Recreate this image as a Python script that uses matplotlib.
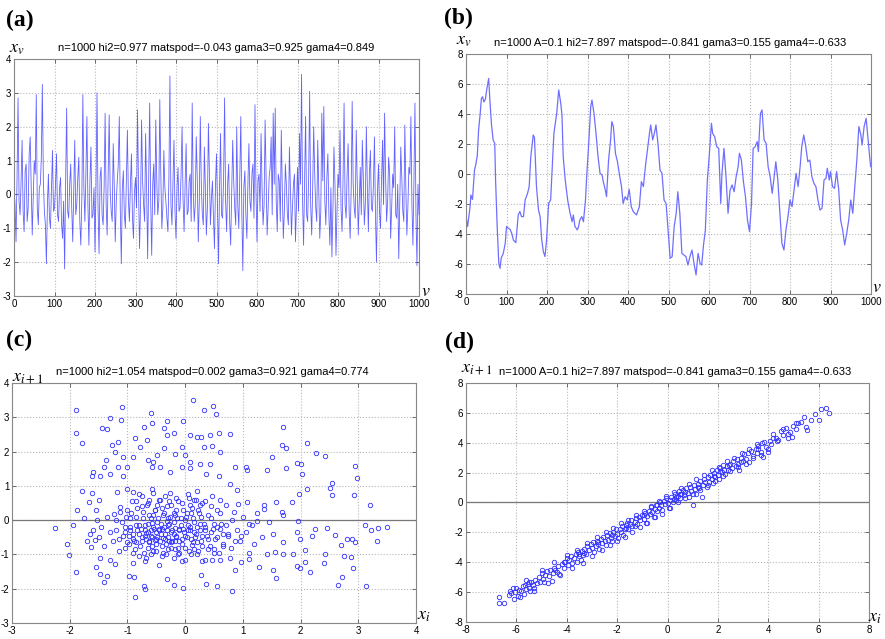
import numpy as np
import matplotlib
matplotlib.use('Agg')
import matplotlib.pyplot as plt

plt.rcParams['mathtext.fontset'] = 'stix'
plt.rcParams['axes.unicode_minus'] = False

# panel (a): noise series over v = 0..1000
a_vals = [0.2, -0.3, -1.4, 0.5, 2.85, -0.2, -0.6, 0.4, 1.6, -0.5, -1.1, 0.7, 0.9, -0.8, -0.4, 1.2, 1.7, 0.3, -1.2, -0.1,
          1.0, 0.6, 2.95, -0.4, -0.9, 0.2, 0.3, 1.1, 3.25, 0.4, -0.5, -0.9, -2.05, -0.3, 0.6, -0.7, -1.0, 0.1, 1.3, -0.5,
          -0.4, 0.3, 1.2, -0.6, -0.8, 0.2, 0.5, -0.9, -1.3, -0.2, -2.2, 0.4, 2.55, -0.5, -0.7, 0.3, 0.9, -0.4, -1.4, 0.1,
          1.6, -0.6, -0.3, 0.5, 1.1, -0.8, -1.5, -0.1, 2.95, 0.2, -0.8, 0.6, 2.3, -0.3, -1.5, 0.4, 1.4, -0.7, -0.6, 0.2,
          -1.7, 0.3, 3.0, -0.4, -1.75, 0.5, 0.8, -0.6, -0.9, 0.2, 2.4, -0.3, -1.2, 0.6, 2.35, 0.1, -0.5, -0.8, 1.5, 0.3,
          -1.4, -0.2, 0.4, 0.9, 2.3, -0.5, -2.05, 0.2, 0.7, -0.6, -1.0, 0.5, 1.9, -0.2, -0.8, 0.3, 1.2, -0.7, -1.3, 0.1,
          0.5, -0.4, 2.5, 0.2, -1.6, -0.3, 2.2, 0.4, -0.3, -0.8, 1.8, 0.1, -1.9, 0.5, 2.7, -0.2, -1.8, 0.3, 0.9, -0.6,
          2.2, 0.4, -0.6, -0.2, 2.8, 0.6, -1.0, -0.4, 1.3, 0.2, -0.2, -0.7, -1.1, 0.5, 3.5, -0.3, -0.9, 0.4, 1.6, -0.5,
          -1.3, 0.2, 0.8, -0.5, -0.4, 0.6, 2.0, -0.2, -1.1, 0.3, 1.5, -0.6, -0.5, 0.4, 0.6, -0.8, 2.7, 0.1, -0.8, -0.3,
          1.7, 0.5, -1.4, -0.2, 2.3, 0.3, -0.6, -0.9, 1.4, 0.2, -1.2, -0.4, 2.1, 0.6, -0.9, -0.1, 0.4, -0.7, -1.6, 0.3,
          1.2, -0.4, -2.05, 0.2, 1.8, -0.6, -0.7, 0.5, 2.85, -0.2, -1.1, 0.3, 0.9, -0.8, -1.5, 0.1, 1.6, 0.4, -0.4, -0.9,
          2.0, -0.3, -1.0, 0.5, 2.3, -0.5, -2.25, 0.2, 0.7, -0.6, -1.3, 0.3, 1.5, -0.2, -0.5, 0.6, 0.9, -0.7, 2.65, 0.1,
          -1.4, 0.4, 0.6, -0.5, 1.8, 0.2, -0.9, -0.3, 2.2, 0.5, -1.2, -0.4, 0.5, 0.8, 1.7, -0.6, 2.4, 0.3, 2.55, -0.2,
          -1.1, 0.6, 0.4, -0.8, 1.9, 0.1, -1.3, -0.5, 0.9, 0.3, -0.6, -0.9, 1.4, 0.2, -1.2, -0.4, 0.3, 0.6, -1.4, -0.3,
          0.8, -0.5, 1.8, 0.3, 3.55, -0.2, -1.5, 0.4, 2.3, -0.6, -0.8, 0.5, 3.05, -0.3, -1.2, 0.2, 2.0, 0.6, -0.4, -0.8,
          1.6, 0.1, -1.3, -0.5, 2.4, 0.4, 2.6, -0.2, -0.9, 0.5, 1.2, -0.6, -1.5, 0.2, -1.85, -0.4, 1.4, 0.3, -1.8, -0.5,
          0.6, 0.2, 1.9, -0.4, -1.1, 0.5, 2.7, -0.3, -0.7, 0.6, 1.5, -0.5, -1.3, 0.1, 2.75, 0.3, -0.4, -0.7, 1.9, 0.4,
          -1.2, -0.2, 0.8, -0.6, 1.6, 0.5, -0.9, -0.3, 2.0, 0.2, -1.1, 0.6, 1.3, -0.4, -0.5, 0.3, 1.7, -0.6, -2.0, 0.1,
          0.9, -0.5, -1.0, 0.4, 1.6, -0.3, 2.4, 0.5, -0.8, -0.2, 1.1, 0.6, -1.3, -0.4, 0.6, 0.2, 2.0, -0.6, -0.7, 0.3,
          -1.9, -0.2, 1.4, 0.5, -0.5, -0.8, 2.05, 0.2, -1.2, -0.4, 0.8, 0.6, 2.3, -0.3, -1.5, 0.4, 2.7, -0.6, -2.1, 0.3, -0.6]

# panel (b): smooth series, read at irregular v
b_v = [0, 4, 10, 12, 16, 21, 24, 28, 31, 35, 38, 41, 44, 48, 51, 56, 59, 63, 67, 71, 73, 77, 81, 84, 87, 92, 97,
       100, 104, 109, 113, 117, 123, 129, 133, 137, 142, 146, 152, 156, 160, 166, 169, 174, 179, 183, 187, 191, 195, 199,
       204, 209, 213, 217, 221, 224, 229, 234, 237, 240, 245, 251, 257, 262, 265, 269, 275, 278, 281, 286, 290, 295, 298,
       303, 308, 311, 316, 321, 326, 331, 336, 339, 344, 347, 352, 357, 360, 364, 369, 374, 379, 384, 388, 393, 398,
       403, 408, 413, 421, 428, 433, 438, 443, 448, 453, 456, 461, 466, 469, 474, 479, 484, 489, 494, 499,
       504, 509, 514, 519, 523, 528, 533, 538, 543, 548, 553, 558, 563, 568, 573, 578, 582, 586, 591, 596,
       601, 606, 609, 614, 619, 624, 629, 632, 637, 642, 647, 652, 657, 662, 667, 672, 675, 680, 685, 690, 695,
       700, 705, 709, 714, 719, 722, 727, 731, 736, 741, 746, 751, 756, 760, 765, 770, 775, 780, 785, 790, 795,
       800, 805, 810, 815, 820, 825, 829, 834, 839, 844, 849, 854, 859, 864, 869, 874, 879, 884, 889, 892, 897,
       900, 905, 910, 915, 920, 925, 930, 935, 940, 945, 950, 955, 960, 965, 970, 975, 978, 983, 988, 993, 999]
b_vals = [-2.84, -3.5, -2.2, -1.4, -1.7, 0.27, 0.6, 1.27, 2.9, 4.0, 5.04, 5.15, 4.8, 5.0, 5.6, 6.37, 4.9, 3.27, 2.27, 2.04, -0.4, -3.5, -5.96, -6.29, -5.6, -5.3, -4.6,
          -3.5, -3.6, -3.7, -3.96, -4.4, -4.58, -2.73, -2.5, -2.84, -2.84, -1.73, -1.29, -0.84, 1.16, 2.6, 2.44, -0.84, -2.4, -2.84, -4.4, -5.18, -5.5, -4.4,
          -1.96, -1.73, 0.49, 2.7, 3.49, 4.04, 5.6, 4.7, 3.93, 1.16, -0.4, -1.73, -2.62, -3.18, -2.73, -3.5, -3.73, -3.5, -3.07, -2.84, -3.18, -1.73, -0.18,
          2.04, 4.49, 4.93, 4.04, 2.71, 1.16, 0.04, -0.07, -0.51, -1.07, -1.51, 0.93, 2.27, 3.49, 3.16, 1.38, 0.82, -0.07, -0.84, -1.96, -1.51, -1.73,
          -1.02, -2.18, -2.51, -2.73, -2.18, -0.51, -0.84, 0.49, 1.6, 2.71, 3.27, 2.27, 2.82, 3.27, 2.04, 0.27, 0.04, -1.73, -1.96, -3.73,
          -5.62, -5.51, -3.5, -2.62, -1.18, -2.62, -5.29, -5.4, -5.5, -6.07, -5.5, -5.07, -5.96, -6.73, -5.29, -5.96, -6.07, -4.84, -3.73, -0.4,
          1.38, 3.38, 2.71, 2.49, 1.82, 1.71, -1.96, 0.04, 1.71, -0.18, -2.62, -1.07, -0.73, -1.18, -0.18, 0.49, 1.38, 0.93, -0.51, -1.51, -3.07,
          -3.84, -1.96, 1.71, 1.82, 2.16, 1.49, 4.04, 4.27, 2.27, 2.04, 0.49, -0.18, -1.29, -0.4, 0.82, -0.4, -2.62, -4.62, -5.07, -3.73, -2.84,
          -1.73, -2.18, -1.07, 0.04, -0.84, 0.49, 1.82, 2.6, 1.82, 0.82, 0.93, -0.18, -0.62, -0.84, -1.73, -2.4, -2.29, -0.4, -0.29, 0.38, -0.4,
          0.16, -0.84, -0.96, 0.16, -0.96, -3.07, -3.73, -4.73, -3.96, -3.07, -1.73, -2.62, -0.84, 0.93, 3.16, 2.6, 1.93, 3.16, 3.71, 2.27, 0.49]

# panel (c): lag plot of the noise series (x_i, x_i+1)
c_x = [-2.25, -1.89, -1.89, -1.79, -2.05, -2.01, -1.89, -1.88, -1.95, -1.79, -1.09, -1.3, -1.11, -1.44, -1.35,
       0.14, 0.32, 0.49, 0.54, -0.04, -0.31, -0.6, -0.57, 0.78, 1.7, 1.67, 1.75, 2.12, 2.26, 2.42, 1.5, 1.42, 1.75,
       1.93, 2.0, 2.03, 2.94, 2.98, 2.93, 2.54, 2.51, 2.54, 1.98, 2.12, 3.21, 3.11, 3.22, 3.34, 3.5, 3.32, 3.14,
       2.95, 2.9, 2.87, 2.75, 2.72, 2.65, 2.81, 2.89, 2.7, 2.6, 2.46, 2.42, 2.4, 2.25, 2.19, 2.07, 2.07, 2.17,
       1.93, 1.99, 1.87, 1.99, 1.96, 1.93, 1.7, 1.7, 1.67, 1.7, 1.85, 1.57, 1.46, 1.52, 1.55, 1.53, 1.57, 1.42,
       1.28, 1.33, 1.36, 1.36, 1.24, 1.11, 1.08, 1.05, 1.08, 1.11, 0.97, 1.11, 0.97, 0.82, 0.86, 0.86, 0.77, 0.89,
       0.92, 0.55, 0.37, 0.28, 0.46, -0.04, -0.19, -0.31, -0.72, -0.69, -0.87, -0.89, -0.98, -1.35, -1.41, -1.47,
       -1.55, -1.47, -1.3, -1.22, -1.63, -1.56, -1.65, -1.53, -1.5, -1.62, -1.66, -1.47, -1.41, -1.59, -1.62, -1.3,
       -1.16, -1.07, -1.01, -0.9, -0.87, -0.78, -0.71, -0.66, -0.64, -0.49, -0.37, -0.32, -0.2, -0.06, 0.0, 0.09,
       0.2, 0.28, 0.43, 0.58, 0.6, 0.46, 0.32, 0.09, 0.26, 0.43, 0.58, 0.37, -0.17, -0.37, -0.43, -0.26, -0.06,
       0.09, -0.58, -0.55, -1.07, -1.16, -1.27, -1.22, -1.37, -1.01, -0.9, -1.13, -1.24, -1.18,
       -1.2, -1.15, -1.1, -1.05, -1.0, -0.98, -0.95, -0.92, -0.9, -0.88, -0.85, -0.83, -0.8, -0.78, -0.75, -0.73,
       -0.7, -0.68, -0.66, -0.64, -0.62, -0.6, -0.58, -0.56, -0.54, -0.52, -0.5, -0.48, -0.46, -0.44, -0.42, -0.4,
       -0.38, -0.36, -0.34, -0.32, -0.3, -0.28, -0.26, -0.24, -0.22, -0.2, -0.18, -0.16, -0.14, -0.12, -0.1, -0.08,
       -0.06, -0.04, -0.02, 0.0, 0.02, 0.04, 0.06, 0.08, 0.1, 0.12, 0.14, 0.16, 0.18, 0.2, 0.22, 0.24, 0.26, 0.28,
       0.3, 0.32, 0.35, 0.38, 0.4, 0.43, 0.46, 0.49, 0.52, 0.55, 0.58, 0.62, 0.66, 0.7, 0.74, 0.78, 0.82, 0.86,
       -1.05, -0.95, -0.9, -0.85, -0.8, -0.75, -0.7, -0.65, -0.6, -0.55, -0.5, -0.45, -0.4, -0.35, -0.3, -0.25,
       -0.2, -0.15, -0.1, -0.05, 0.0, 0.05, 0.1, 0.15, 0.2, 0.25, 0.3, 0.35, 0.4, 0.45, 0.5, 0.55, 0.6, 0.65,
       -0.62, -0.38, -0.12, 0.18, -0.72, -0.48, -0.28, 0.08, -0.58, -0.32, -0.18, 0.28,
       -0.45, -0.5, -0.4, -0.55, -0.35, -0.6, -0.3, -0.65, -0.25, -0.7, -0.2, -0.75, -0.15, -0.8, -0.1, -0.85,
       -0.05, -0.9, 0.0, -0.95, 0.05, -1.0, 0.1, -1.05, 0.15, 0.2, 0.25, 0.3, 0.35, 0.4, 0.45, 0.5, 0.55, 0.6,
       0.65, 0.7, -0.47, -0.43, -0.37, -0.33, -0.27, -0.23, -0.17, -0.13, -0.07, -0.03, 0.03, 0.07, 0.13, 0.17,
       0.23, -0.53, -0.57, -0.63, -0.67, -0.73, -0.77, -0.83, -0.87, -0.93, -0.97, -1.03, -1.08, -1.13, -0.5,
       -0.4, -0.3, -0.2, -0.1, 0.0, -0.6, -0.7, -0.8, -0.9, 0.2, 0.3, 0.5, 0.6, -0.45, -0.35, -0.25, -0.15,
       -0.05, 0.05, -0.55, -0.65, -0.75, -0.85, 0.15, 0.35, 0.45, 0.6, -1.15, -1.2, -1.25, -1.3, -1.35, -1.4,
       -1.45, -1.5, -1.55, -1.6, -1.7, -1.75, 0.75, 0.8, 0.85, 0.9, 0.95, 1.0, 1.05, 1.15, 1.2, 1.25,
       -0.48, -0.42, -0.52, -0.38, -0.58, -0.32, -0.62, -0.28, -0.18, -0.68, 0.08, 0.12]
c_y = [-0.24, 3.2, 2.55, 2.26, -0.7, -1.02, -1.5, 0.31, -0.14, 0.85, 3.3, 2.97, 2.92, 2.7, 2.67,
       3.5, 3.22, 3.33, 3.1, 2.9, 2.9, 3.12, 2.84, 2.5, 2.72, 2.2, 2.09, 2.24, 1.97, 1.88, 1.85, 1.46, 1.52,
       1.68, 1.65, 1.36, 1.58, 1.22, 0.73, 1.07, 0.95, 0.74, 0.75, 0.92, 0.43, -0.15, -0.28, -0.23, -0.21, -0.6, -1.93,
       -0.64, -1.39, -1.08, -1.04, -1.65, -1.88, -0.54, -0.56, -0.72, -0.43, -0.22, -0.99, -1.26, -0.25, -0.47, -0.86, -1.21, -1.51,
       -1.34, -1.39, -0.99, -0.54, -0.03, -0.36, -0.99, -0.64, 0.24, 0.14, 0.54, 0.54, -0.06, -0.4, -0.93, -1.46, -1.7, -0.99,
       -1.37, -0.5, 0.33, 0.43, -0.03, -0.11, 0.54, 1.56, 1.46, -1.13, -1.23, -0.95, -0.45, -2.07, -1.46, 1.56, 1.06, 0.87,
       0.48, -1.91, -1.86, -1.61, -1.17, -1.97, -1.88, -1.72, -1.92, -2.02, -2.25, -1.67, -1.62, -1.62, -1.79, -1.58,
       -1.37, -1.11, -1.17, -1.27, -0.79, -0.58, -0.41, 0.0, 0.6, 0.79, 0.54, 1.28, 1.56, 1.41, 1.28, 1.36,
       1.56, 1.28, 1.56, 1.85, 2.41, 2.14, 2.73, 2.33, 1.75, 1.9, 2.7, 2.48, 2.54, 2.14, 1.9, 2.48,
       2.43, 2.43, 2.48, 2.54, 1.99, 2.17, 2.14, 1.7, 1.65, 1.65, 1.28, 1.36, 1.94, 2.09, 1.56, 1.41, 1.56,
       1.51, 1.56, 1.7, 1.85, 2.29, 2.19, 1.99, 1.75, 0.92, 0.82, 0.38, 0.19, 0.82,
       -0.3, -0.55, -0.05, -0.8, 0.3, -0.45, -0.2, 0.55, -0.95, -0.6, 0.1, -0.3, 0.75, -0.75, -0.5, 0.25,
       -0.15, -1.1, 0.45, -0.35, -0.65, 0.05, 0.9, -0.9, -0.25, 0.3, -0.55, -0.05, -1.3, 0.6, -0.4, -0.75,
       0.15, -0.2, -1.0, 0.4, -0.5, -0.1, 0.8, -0.65, -0.3, 0.2, -0.85, -0.45, 0.05, 0.55, -0.6, -0.15,
       -1.2, 0.3, -0.35, -0.8, 0.1, -0.5, 0.65, -0.2, -1.0, 0.35, -0.65, -0.05, -0.4, 0.85, -0.9, 0.2, -0.3, -0.6,
       0.5, -0.1, -1.15, -0.45, 0.15, -0.75, 0.7, -0.25, -0.55, 0.3, -0.95, -0.1, -0.7, 0.45, -0.4, -1.1, 0.0, -0.6,
       -0.35, 0.05, -0.4, -0.65, -0.15, 0.4, -0.45, -0.8, -0.3, 0.15, -0.7, -0.25, 0.35, -0.55, 0.05, -0.8,
       -0.4, 0.3, -0.25, -0.55, 0.0, -0.3, 0.2, -0.85, -0.2, 0.45, -0.75, -0.3, -0.55, 0.05, -0.85, -0.2, 0.2, -0.4,
       0.6, -0.95, -1.0, 0.6, -0.95, 0.45, 0.55, 0.45, -0.5, -0.3, -0.6, 0.1,
       -0.3, -0.35, -0.25, -0.2, -0.4, -0.45, -0.15, -0.1, -0.35, -0.3, -0.05, -0.6, -0.5, -0.4, -0.3, -0.15,
       -0.7, -0.55, -0.45, -0.3, -0.15, -0.65, -0.55, -0.2, -0.35, -0.65, -0.1, -0.45, -0.2, -0.85, -0.35, -0.1,
       -0.5, -0.25, -0.75, -0.15, 0.05, -0.6, 0.2, -0.7, 0.1, -0.6, 0.15, -0.8, 0.05, -0.25, 0.2, -0.9, 0.05,
       -0.5, 0.3, 0.3, -0.75, 0.15, -0.55, 0.05, -0.25, 0.35, -0.85, 0.2, -0.7, 0.1, -0.45, 0.25, -0.9,
       -1.05, -0.85, -1.1, -0.95, -1.15, -1.0, -1.2, -1.05, -1.25, -1.0, -1.2, -0.95, -1.15, 0.6, 0.7, 0.45,
       0.65, 0.5, 0.75, 0.8, 0.5, 0.7, 0.55, 0.6, 0.55, 0.4, 0.6, -0.9, 0.0, -0.6, -0.35, 0.1, -0.75,
       -0.2, -0.5, 0.3, -0.3, -0.6, 0.05, -0.45, -0.8, 0.25, -0.3, -0.6, 0.1, -0.35, -0.15, -0.7, 0.2,
       -0.48, -0.12, -0.58, -0.52, -0.08, -0.02, -0.62, -0.62, -0.22, -0.38, -0.28, -0.72]

# panel (d): lag plot of the smooth series
d_x = [-6.7, -6.7, -6.5, -6.3, -6.25, -6.2, -6.1, -6.05, -6.0, -5.95, -5.9, -5.8, -5.75, -5.7, -5.65, -5.6, -5.55, -5.5,
       -5.45, -5.4, -5.35, -5.3, -5.25, -5.2, -5.1, -5.05, -5.0, -4.95, -4.9, -4.85, -4.8, -4.7, -4.65, -4.6, -4.55, -4.5,
       -4.4, -4.35, -4.3, -4.2, -4.1, -4.05, -4.0, -3.95, -3.9, -3.85, -3.8, -3.7, -3.65, -3.6, -3.55, -3.5, -3.45, -3.4,
       -3.35, -3.3, -3.25, -3.2, -3.1, -3.05, -3.0, -2.95, -2.9, -2.85, -2.8, -2.75, -2.7, -2.65, -2.6, -2.55, -2.5, -2.45,
       -2.4, -2.35, -2.3, -2.25, -2.2, -2.15, -2.1, -2.05, -2.0, -1.95, -1.9, -1.85, -1.8, -1.75, -1.7, -1.65, -1.6, -1.55,
       -1.5, -1.45, -1.4, -1.3, -1.25, -1.2, -1.15, -1.1, -1.0, -0.95, -0.9, -0.85, -0.8, -0.75, -0.7, -0.65, -0.6, -0.55,
       -0.5, -0.45, -0.4, -0.35, -0.3, -0.25, -0.2, -0.15, -0.1, -0.05, 0.0, 0.05, 0.1, 0.15, 0.2, 0.25, 0.3, 0.35, 0.4,
       0.45, 0.5, 0.55, 0.6, 0.65, 0.7, 0.75, 0.8, 0.85, 0.9, 0.95, 1.0, 1.05, 1.1, 1.15, 1.2, 1.25, 1.3, 1.35, 1.4, 1.45,
       1.5, 1.55, 1.6, 1.65, 1.7, 1.75, 1.8, 1.85, 1.9, 1.95, 2.0, 2.05, 2.1, 2.15, 2.2, 2.25, 2.3, 2.35, 2.4, 2.5, 2.55,
       2.6, 2.7, 2.75, 2.8, 2.85, 2.9, 3.0, 3.05, 3.1, 3.2, 3.25, 3.3, 3.4, 3.5, 3.55, 3.6, 3.7, 3.75, 3.8, 3.9, 4.0, 4.05,
       4.1, 4.2, 4.3, 4.35, 4.5, 4.6, 4.7, 4.8, 4.85, 5.0, 5.1, 5.2, 5.3, 5.4, 5.5, 5.55, 5.7, 5.85, 6.0, 6.1, 6.3, 6.4,
       -6.15, -5.85, -5.6, -5.3, -5.0, -4.75, -4.5, -4.25, -4.0, -3.8, -3.6, -3.35, -3.2, -3.0, -2.8, -2.6, -2.45, -2.3,
       -2.15, -2.0, -1.85, -1.7, -1.55, -1.4, -1.25, -1.1, -0.95, -0.8, -0.65, -0.5, -0.35, -0.2, -0.05, 0.1, 0.25, 0.4,
       0.55, 0.7, 0.85, 1.0, 1.15, 1.3, 1.45, 1.6, 1.75, 1.9, 2.05, 2.2, 2.35, 2.5, 2.65, 2.8, 2.95, 3.1, 3.25, 3.4,
       3.55, 3.7, 3.85, 4.0, 4.2, 4.4, 4.6, 4.8, 4.95, 5.1, -5.5, -4.45, -3.3, -2.2, -1.3, -0.4, 0.35, 1.2, 2.1, 2.9,
       3.6, -2.75, -1.65, -0.95, 0.5, 1.85, 2.45, -4.1, -3.5]
d_y = [-6.7, -6.3, -6.75, -6.2, -5.95, -6.05, -6.45, -6.0, -5.7, -6.25, -5.85, -5.95, -5.6, -6.1, -5.55, -5.8, -5.45, -5.7,
       -5.9, -5.3, -5.55, -5.75, -5.2, -5.4, -5.0, -5.3, -4.75, -5.1, -5.35, -4.85, -4.6, -4.95, -4.5, -5.25, -4.7, -4.4,
       -4.65, -4.25, -4.8, -4.1, -4.4, -3.95, -3.7, -4.2, -3.85, -3.6, -4.05, -3.7, -3.45, -3.95, -3.3, -3.6, -3.85, -3.25,
       -3.5, -3.1, -3.45, -2.9, -3.2, -2.8, -3.05, -2.65, -3.3, -2.9, -2.55, -2.75, -3.1, -2.45, -2.7, -2.3, -2.55, -2.85,
       -2.2, -2.5, -2.05, -2.35, -2.6, -2.0, -2.25, -1.8, -2.1, -2.4, -1.75, -1.95, -1.55, -2.2, -1.8, -1.5, -1.35, -1.75,
       -1.45, -1.2, -1.6, -1.3, -1.05, -1.45, -0.95, -1.2, -0.85, -1.1, -0.7, -1.35, -0.9, -0.55, -0.8, -0.3, -0.65, -1.0,
       -0.45, -0.15, -0.6, -0.35, 0.05, -0.2, -0.5, 0.1, -0.1, 0.3, -0.05, -0.35, 0.15, 0.4, 0.0, 0.25, 0.55, 0.2, 0.45,
       0.75, 0.3, 0.6, 0.85, 0.5, 0.7, 1.0, 0.65, 0.4, 1.05, 0.8, -0.15, 1.2, 0.9, 0.6, 1.25, 1.0, 1.45, 0.35, 1.2, 1.6,
       1.35, 1.05, 1.7, 1.4, 1.85, 1.55, 1.3, 2.0, 1.7, 2.2, 1.85, 1.6, 2.3, 2.05, 2.5, 2.15, 1.9, 2.45, 2.2, 2.6, 2.3,
       2.75, 2.45, 2.9, 2.6, 2.2, 3.0, 2.8, 3.25, 2.9, 3.3, 2.7, 3.45, 3.1, 3.6, 3.3, 3.8, 3.4, 4.0, 3.05, 3.7, 3.4, 4.1,
       3.9, 4.6, 4.35, 4.1, 4.8, 4.5, 5.0, 4.3, 4.75, 5.1, 4.9, 5.3, 5.4, 5.7, 5.05, 4.85, 5.5, 5.95, 5.5, 6.25, 6.35, 6.0,
       -5.75, -6.3, -5.2, -5.9, -4.5, -5.4, -4.0, -4.85, -3.5, -4.4, -3.2, -4.05, -2.7, -3.6, -2.3, -3.2, -2.0, -2.85,
       -1.7, -2.6, -1.4, -2.3, -1.15, -1.95, -0.85, -1.65, -0.55, -1.35, -0.25, -1.0, 0.1, -0.75, 0.45, -0.35, 0.7, 0.0,
       0.95, 0.3, 1.25, 0.55, 1.55, 0.85, 1.85, 1.2, 2.15, 1.45, 2.4, 1.8, 2.75, 2.1, 3.0, 2.35, 3.3, 2.6, 3.6, 2.95,
       3.9, 3.15, 4.05, 3.6, 4.3, 4.2, 4.9, 4.6, 4.4, 5.3, -5.35, -4.55, -3.35, -2.15, -1.55, -0.2, 0.4, 1.05, 2.1, 2.7,
       3.55, -2.65, -1.7, -0.85, 0.55, 1.8, 2.5, -4.0, -3.45]

titles = ['n=1000 hi2=0.977 matspod=-0.043 gama3=0.925 gama4=0.849',
          'n=1000 A=0.1 hi2=7.897 matspod=-0.841 gama3=0.155 gama4=-0.633',
          'n=1000 hi2=1.054 matspod=0.002 gama3=0.921 gama4=0.774',
          'n=1000 A=0.1 hi2=7.897 matspod=-0.841 gama3=0.155 gama4=-0.633']

W, H = 885, 639
fig = plt.figure(figsize=(W / 100, H / 100), dpi=100)


def box(l, t, r, b):
    return [l / W, 1 - b / H, (r - l) / W, (b - t) / H]


def style(ax, xlim, ylim, xt, yt):
    ax.set_xlim(*xlim)
    ax.set_ylim(*ylim)
    ax.set_xticks(xt)
    ax.set_yticks(yt)
    ax.grid(True, color='#b8b8b8', linestyle=':', linewidth=0.8)
    ax.tick_params(direction='in', length=3, width=0.6, pad=2, labelsize=7,
                   top=True, right=True, colors='#555555', labelcolor='black')
    for lab in ax.get_xticklabels() + ax.get_yticklabels():
        lab.set_family('Liberation Sans')
    for s in ax.spines.values():
        s.set_color('#888888')
        s.set_linewidth(0.8)


def ftext(x, y, s, **kw):
    fig.text(x / W, 1 - y / H, s, **kw)


axa = fig.add_axes(box(14, 59, 419, 296))
axa.plot(np.linspace(0, 1000, len(a_vals)), a_vals, color='#3a3aff', lw=0.6, alpha=0.8)
style(axa, (0, 1000), (-3, 4), range(0, 1001, 100), range(-3, 5))

axb = fig.add_axes(box(466, 54, 871, 294))
axb.plot(b_v, b_vals, color='#6f6fff', lw=0.9)
style(axb, (0, 1000), (-8, 8), range(0, 1001, 100), range(-8, 9, 2))

axc = fig.add_axes(box(12, 383, 416, 623))
axc.axhline(0, color='#777777', lw=0.9)
axc.plot(c_x, c_y, 'o', mfc='none', mec='#3030ff', ms=3.2, mew=0.6)
style(axc, (-3, 4), (-3, 4), range(-3, 5), range(-3, 5))

axd = fig.add_axes(box(466, 383, 869, 622))
axd.axhline(0, color='#777777', lw=0.9)
axd.plot(d_x, d_y, 'o', mfc='none', mec='#3030ff', ms=3.2, mew=0.6)
style(axd, (-8, 8), (-8, 8), range(-8, 9, 2), range(-8, 9, 2))

for ax, t, tx in zip([axa, axb, axc, axd], titles, [0.5, 0.505, 0.495, 0.518]):
    ax.set_title(t, fontsize=8.0, family='Liberation Sans', pad=6, x=tx)

# panel letters
for s, x, y in [('(a)', 6, 20), ('(b)', 444, 18), ('(c)', 6, 340), ('(d)', 445, 342)]:
    ftext(x, y, s, fontsize=17, fontweight='bold', family='Liberation Serif', va='center')

# axis names
ftext(9, 48, r'$x_v$', fontsize=13, va='center')
ftext(421, 291, r'$v$', fontsize=13, va='center')
ftext(456, 40, r'$x_v$', fontsize=13, va='center')
ftext(872, 287, r'$v$', fontsize=13, va='center')
ftext(12, 377, r'$x_{i+1}$', fontsize=13, va='center')
ftext(417, 615, r'$x_i$', fontsize=13, va='center')
ftext(461, 368, r'$x_{i+1}$', fontsize=13, va='center')
ftext(868, 617, r'$x_i$', fontsize=13, va='center')

fig.savefig('out.png', dpi=100)
